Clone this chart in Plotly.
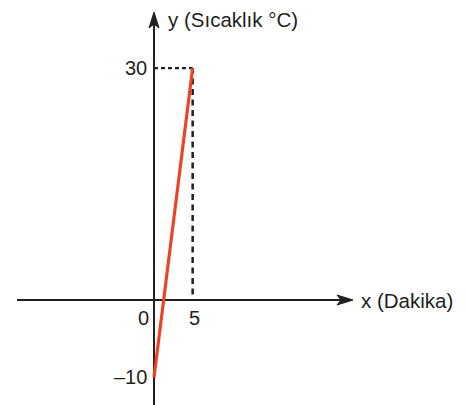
import plotly.graph_objects as go

# ---- data ----
time_min = [0, 5]          # x (Dakika)
temp_c = [-10, 30]         # y (Sıcaklık °C)
x_tick_vals = [0, 5]
x_tick_text = ["0", "5"]
y_tick_vals = [30, -10]
y_tick_text = ["30", "–10"]
x_title = "x (Dakika)"
y_title = "y (Sıcaklık °C)"

# ---- layout constants ----
PAGE_MARGIN = 8               # default body margin of the html page
W, H = 466 - PAGE_MARGIN, 405 - PAGE_MARGIN
S = 7.73                      # pixels per unit (both axes)
X0_PX, Y0_PX = 154 - PAGE_MARGIN, 300 - PAGE_MARGIN   # origin pixel in figure
x_rng = [-X0_PX / S, (W - X0_PX) / S]
y_rng = [-(H - Y0_PX) / S, Y0_PX / S]

def px(u):
    return u / S

AX_COL = "#231f20"
RED = "#ef4123"
FONT = "Liberation Sans, Arial, sans-serif"

x_axis_left = px(17 - PAGE_MARGIN - X0_PX)
x_axis_tip = px(353 - PAGE_MARGIN - X0_PX)
y_axis_bottom = y_rng[0]
y_axis_tip = px(Y0_PX - (12 - PAGE_MARGIN))

fig = go.Figure()

# axes lines
fig.add_trace(go.Scatter(x=[x_axis_left, x_axis_tip - px(8)], y=[0, 0], mode="lines",
                         line=dict(color=AX_COL, width=2), hoverinfo="skip"))
fig.add_trace(go.Scatter(x=[0, 0], y=[y_axis_bottom, y_axis_tip - px(8)], mode="lines",
                         line=dict(color=AX_COL, width=2), hoverinfo="skip"))
# arrowheads
L, Hh, N = px(16), px(5), px(4)
fig.add_trace(go.Scatter(
    x=[x_axis_tip, x_axis_tip - L, x_axis_tip - L + N, x_axis_tip - L, x_axis_tip],
    y=[0, Hh, 0, -Hh, 0], mode="lines", fill="toself", fillcolor=AX_COL,
    line=dict(color=AX_COL, width=1), hoverinfo="skip"))
fig.add_trace(go.Scatter(
    x=[0, Hh, 0, -Hh, 0],
    y=[y_axis_tip, y_axis_tip - L, y_axis_tip - L + N, y_axis_tip - L, y_axis_tip],
    mode="lines", fill="toself", fillcolor=AX_COL,
    line=dict(color=AX_COL, width=1), hoverinfo="skip"))

# dashed guides to (5, 30)
fig.add_trace(go.Scatter(x=[0, time_min[1]], y=[temp_c[1], temp_c[1]],
                         mode="lines", line=dict(color=AX_COL, width=2.2, dash="4px,3px"),
                         hoverinfo="skip"))
fig.add_trace(go.Scatter(x=[time_min[1], time_min[1]], y=[temp_c[1], 0],
                         mode="lines", line=dict(color=AX_COL, width=2.5, dash="6px,4.5px"),
                         hoverinfo="skip"))

# red line
fig.add_trace(go.Scatter(x=time_min, y=temp_c, mode="lines",
                         line=dict(color=RED, width=3.2), hoverinfo="skip"))

ann = []
# y tick labels
for v, t in zip(y_tick_vals, y_tick_text):
    ann.append(dict(x=0, y=v, text=t, showarrow=False, xanchor="right", yanchor="middle",
                    xshift=-5, font=dict(size=20, color=AX_COL, family=FONT)))
# x tick labels
for v, t in zip(x_tick_vals, x_tick_text):
    shift = -11 if v == 0 else 2
    ann.append(dict(x=v, y=0, text=t, showarrow=False, xanchor="center", yanchor="middle",
                    xshift=shift, yshift=-18, font=dict(size=20, color=AX_COL, family=FONT)))
# axis titles
ann.append(dict(x=x_axis_tip, y=0, text=x_title, showarrow=False, xanchor="left",
                yanchor="middle", xshift=6, font=dict(size=20.5, color=AX_COL, family=FONT)))
ann.append(dict(x=0, y=y_axis_tip, text=y_title, showarrow=False, xanchor="left",
                yanchor="middle", xshift=12, yshift=-7, font=dict(size=20.5, color=AX_COL, family=FONT)))

fig.update_layout(
    width=W, height=H, margin=dict(l=0, r=0, t=0, b=0),
    paper_bgcolor="white", plot_bgcolor="white", showlegend=False,
    xaxis=dict(range=x_rng, visible=False, fixedrange=True),
    yaxis=dict(range=y_rng, visible=False, fixedrange=True),
    annotations=ann,
)

fig.write_html("out.html")
